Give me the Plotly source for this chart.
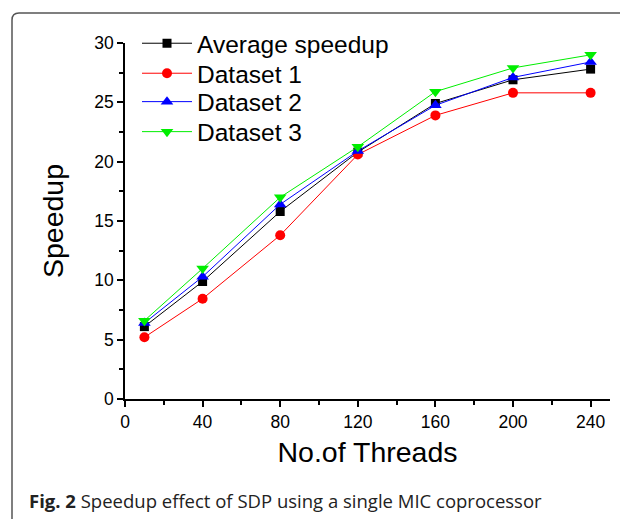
import plotly.graph_objects as go

threads = [10, 40, 80, 120, 160, 200, 240]
average_speedup = [6.1, 9.9, 15.8, 20.8, 24.9, 26.9, 27.8]
dataset1 = [5.2, 8.45, 13.8, 20.6, 23.9, 25.8, 25.8]
dataset2 = [6.4, 10.3, 16.4, 20.9, 24.75, 27.1, 28.4]
dataset3 = [6.6, 11.0, 17.0, 21.25, 25.9, 27.9, 29.0]

series = [
    ("Average speedup", average_speedup, "black", "square", 9),
    ("Dataset 1", dataset1, "#ff0000", "circle", 10),
    ("Dataset 2", dataset2, "#0000ff", "triangle-up", 11),
    ("Dataset 3", dataset3, "#00ee00", "triangle-down", 11),
]

W, H = 620, 519
ml, mr, mt, mb = 125, 10, 43, 120
pw = W - ml - mr
ph = H - mt - mb

def px_x(px):
    return (px - ml) / pw

def px_y(py):
    return (H - mb - py) / ph

legend_names = ["legend", "legend2", "legend3", "legend4"]
legend_rows = [43.3, 73.3, 101.7, 131.7]

fig = go.Figure()
for i, (name, vals, color, sym, size) in enumerate(series):
    fig.add_trace(go.Scatter(
        x=threads, y=vals, name=name, mode="lines+markers",
        line=dict(color=color, width=1),
        marker=dict(symbol=sym, size=size, color=color),
        legend=legend_names[i],
    ))

legend_layout = {}
for lname, row in zip(legend_names, legend_rows):
    legend_layout[lname] = dict(
        x=px_x(137), y=px_y(row), xanchor="left", yanchor="middle",
        font=dict(size=24.5), itemwidth=50,
        bgcolor="rgba(0,0,0,0)",
    )

x0 = px_x(12)
yt = px_y(13)
xr = px_x(640)
yb = px_y(560)
rx = 7 / pw
ry = 7 / ph
path = (f"M {x0},{yb} L {x0},{yt - ry} Q {x0},{yt} {x0 + rx},{yt} L {xr},{yt}")

fig.update_layout(
    width=W, height=H,
    margin=dict(l=ml, r=mr, t=mt, b=mb, autoexpand=False),
    paper_bgcolor="white", plot_bgcolor="white",
    font=dict(family="Liberation Sans, Arial, sans-serif", color="black"),
    showlegend=True,
    xaxis=dict(
        range=[0, 250], tickvals=[0, 40, 80, 120, 160, 200, 240], automargin=False,
        showgrid=False, zeroline=False, showline=True, linecolor="black", linewidth=1.5,
        ticks="outside", ticklen=6, tickwidth=1.5, tickcolor="black",
        minor=dict(tickvals=[20, 60, 100, 140, 180, 220], ticks="outside", ticklen=4, tickwidth=1.5, tickcolor="black"),
        tickfont=dict(size=17.5),
        title=dict(text="No.of Threads", font=dict(size=28.5), standoff=11),
    ),
    yaxis=dict(
        range=[0, 30], tickvals=[0, 5, 10, 15, 20, 25, 30], automargin=False,
        showgrid=False, zeroline=False, showline=True, linecolor="black", linewidth=1.5,
        ticks="outside", ticklen=6, tickwidth=1.5, tickcolor="black",
        minor=dict(tickvals=[2.5, 7.5, 12.5, 17.5, 22.5, 27.5], ticks="outside", ticklen=4, tickwidth=1.5, tickcolor="black"),
        tickfont=dict(size=17.5),
        title=dict(text="Speedup", font=dict(size=28.5), standoff=22),
    ),
    shapes=[dict(type="path", path=path, xref="paper", yref="paper",
                 line=dict(color="#555555", width=1.5), layer="above")],
    annotations=[dict(
        text="<b>Fig. 2</b> Speedup effect of SDP using a single MIC coprocessor",
        x=px_x(27), y=px_y(500), xref="paper", yref="paper",
        xanchor="left", yanchor="middle", showarrow=False,
        font=dict(family="Open Sans, sans-serif", size=18.5, color="#222222"),
    )],
    **legend_layout,
)

fig.write_html("out.html", config={"displayModeBar": False},
               post_script="document.body.style.margin='0';")
